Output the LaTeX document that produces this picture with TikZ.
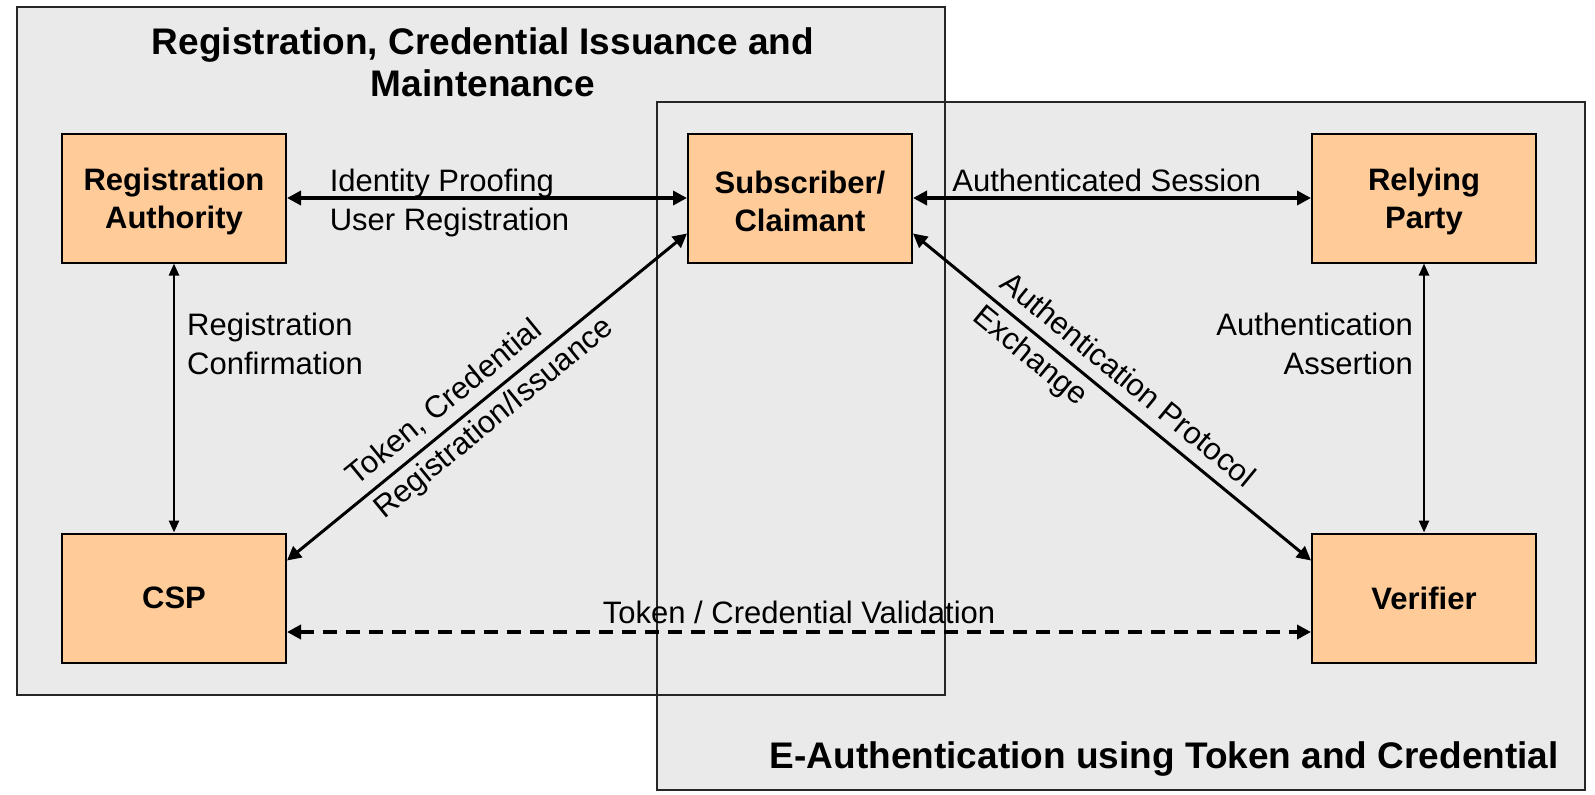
\documentclass[tikz,border=0pt]{standalone}
\usepackage{fontspec}
\setmainfont{Liberation Sans}
\usepackage{xcolor}
\usetikzlibrary{arrows.meta,calc,positioning}

\definecolor{boxorange}{RGB}{255,204,153}
\definecolor{zonegray}{RGB}{234,234,234}
\newcommand{\hautligne}{\rule{0pt}{15pt}} % premiere ligne un peu plus haute

\begin{document}
\begin{tikzpicture}[
		x=0.5pt, y=-0.5pt,
		entite/.style={rectangle, draw, line width=1pt, fill=boxorange, minimum width=112pt, minimum height=64.5pt, align=center, font=\bfseries\fontsize{15.5}{19}\selectfont},
		zone/.style={draw=black!85, line width=1pt},
		lbl/.style={inner sep=0pt, font=\fontsize{15.5}{19.5}\selectfont},
		titre/.style={inner sep=0pt, font=\bfseries\fontsize{18.5}{20.9}\selectfont},
		>={Triangle[length=7pt,width=7pt]} % pointes pleines
		]
		\useasboundingbox (0,0) rectangle (1595,794);
		
		% Les zones
		\fill[zonegray] (17,7) rectangle (945,695);
		\fill[zonegray] (657,102) rectangle (1585,790);
		\draw[zone] (17,7) rectangle (945,695);
		\draw[zone] (657,102) rectangle (1585,790);
		
		% Les titres
		\node[titre, align=center] (titreA) at (483,62.5) {Registration, Credential Issuance and\\Maintenance};
		\node[titre, anchor=base east] (titreB) at (1559,768) {E-Authentication using Token and Credential};
		
		% Les entites
		\node[entite] (ra) at (174,198) {\hautligne Registration\\Authority};
		\node[entite] (sub) at (800,198) {\hautligne Subscriber/\\Claimant};
		\node[entite] (rp) at (1424,198) {\hautligne Relying\\Party};
		\node[entite] (csp) at (174,598) {CSP};
		\node[entite] (ver) at (1424,598) {Verifier};
		
		% Les echanges
		\draw[<->, line width=2pt] (ra) to node[lbl, pos=0.102, anchor=west, align=left, yshift=-2.5pt] {Identity Proofing\\User Registration} (sub);
		\draw[<->, line width=2pt] (sub) to node[lbl, pos=0.094, anchor=base west, yshift=3.5pt] {Authenticated Session} (rp);
		\draw[<->, line width=1.2pt, >={Triangle[length=6pt,width=5pt]}] (ra) to node[lbl, pos=0.3, right=6pt, align=left] {Registration\\Confirmation} (csp);
		\draw[<->, line width=1.2pt, >={Triangle[length=6pt,width=5pt]}] (rp) to node[lbl, pos=0.3, left=5pt, align=right] {Authentication\\Assertion} (ver);
		\draw[<->, line width=1.5pt] ([yshift=-14pt]csp.north east) to node[lbl, sloped, pos=0.193, anchor=west, align=left] {Token, Credential\\[2pt]Registration/Issuance} ([yshift=15pt]sub.south west);
		\draw[<->, line width=1.5pt] ([yshift=15pt]sub.south east) to node[lbl, sloped, pos=0.19, anchor=west, align=left] {Authentication Protocol\\[2pt]Exchange} ([yshift=-14pt]ver.north west);
		\draw[<->, line width=2pt, dash pattern=on 7pt off 4.5pt] ([yshift=-17pt]csp.east) to node[lbl, midway, anchor=base, yshift=4.5pt] {Token / Credential Validation} ([yshift=-17pt]ver.west);
	\end{tikzpicture}
\end{document}
